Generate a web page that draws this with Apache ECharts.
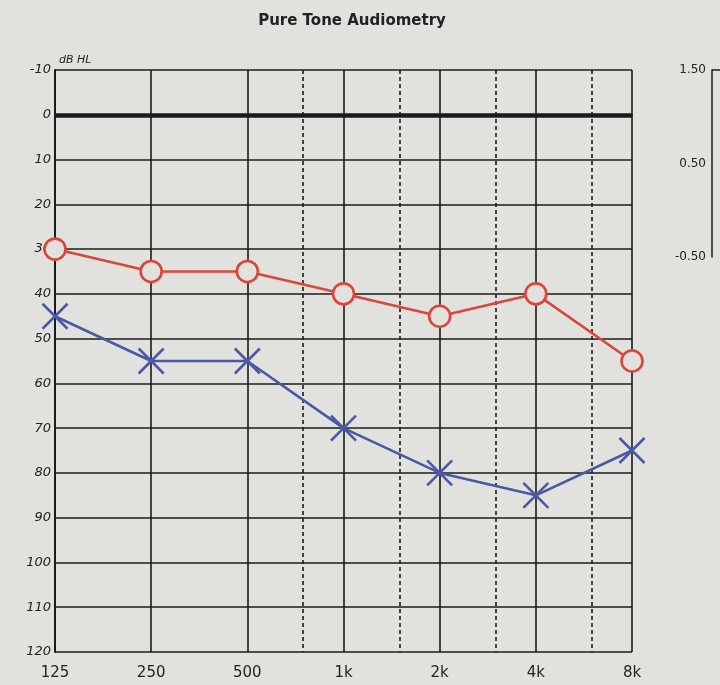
<!DOCTYPE html>
<html>
<head>
<meta charset="utf-8">
<script src="https://cdn.jsdelivr.net/npm/echarts@6/dist/echarts.min.js"></script>
<style>html,body{margin:0;padding:0;background:#e1e2de;}#c{width:720px;height:685px;}</style>
</head>
<body>
<div id="c"></div>
<script>
var frequencies = [125, 250, 500, 1000, 2000, 4000, 8000];
var freqLabels = ['125', '250', '500', '1k', '2k', '4k', '8k'];
var halfOctaves = [750, 1500, 3000, 6000];
var rightEar = [30, 35, 35, 40, 45, 40, 55];   // red circles
var leftEar = [45, 55, 55, 70, 80, 85, 75];    // blue crosses
var dbTicks = { min: -10, max: 120, step: 10 };
var tympTicks = { min: -0.5, max: 1.5, step: 0.5 };

function oct(f) { return Math.log(f / 125) / Math.LN2; }
function pairs(vals) { return frequencies.map(function (f, i) { return [oct(f), vals[i]]; }); }

var chart = echarts.init(document.getElementById('c'), null, { renderer: 'canvas' });
var ink = '#1b1b1b';
chart.setOption({
  backgroundColor: '#e1e2de',
  animation: false,
  title: {
    text: 'Pure Tone Audiometry', left: 347, top: 9, textAlign: 'center',
    textStyle: { fontFamily: 'DejaVu Sans', fontWeight: 'bold', fontSize: 15, color: '#222' }
  },
  grid: [
    { left: 55, right: 88, top: 70, bottom: 33, show: false },
    { left: 712, width: 200, top: 70, height: 187, show: false }
  ],
  xAxis: [
    {
      gridIndex: 0, type: 'value', min: 0, max: 6, interval: 1,
      axisLine: { show: true, lineStyle: { color: ink, width: 2 } },
      axisTick: { show: false },
      splitLine: { show: true, lineStyle: { color: ink, width: 1.6 } },
      axisLabel: {
        margin: 14, fontFamily: 'DejaVu Sans', fontSize: 15, color: '#222',
        formatter: function (v) { return freqLabels[Math.round(v)] || ''; }
      }
    },
    { gridIndex: 1, type: 'value', show: false, min: 0, max: 1 }
  ],
  yAxis: [
    {
      gridIndex: 0, type: 'value', inverse: true,
      min: dbTicks.min, max: dbTicks.max, interval: dbTicks.step,
      name: 'dB HL', nameLocation: 'start', nameGap: 4,
      nameTextStyle: { fontFamily: 'DejaVu Sans', fontStyle: 'italic', fontSize: 11, color: '#222', align: 'left', padding: [0, 0, 0, 4] },
      axisLine: { show: true, lineStyle: { color: ink, width: 2 } },
      axisTick: { show: false },
      splitLine: { show: true, lineStyle: { color: ink, width: 1.6 } },
      axisLabel: { margin: 4, fontFamily: 'DejaVu Sans', fontStyle: 'italic', fontSize: 13, color: '#222' }
    },
    {
      gridIndex: 1, type: 'value', min: tympTicks.min, max: tympTicks.max, interval: tympTicks.step,
      axisLine: { show: true, lineStyle: { color: ink, width: 1.5 } },
      axisTick: { show: false },
      splitLine: { show: false },
      axisLabel: {
        margin: 6, fontFamily: 'DejaVu Sans', fontSize: 12, color: '#222',
        formatter: function (v) { return Math.abs(Math.round(v * 2)) % 2 === 1 ? v.toFixed(2) : ''; }
      }
    }
  ],
  series: [
    {
      type: 'line', xAxisIndex: 0, yAxisIndex: 0, data: [], silent: true,
      markLine: {
        symbol: 'none', silent: true, label: { show: false },
        lineStyle: { color: ink, type: [4, 3], width: 1.6 },
        data: halfOctaves.map(function (f) { return { xAxis: oct(f) }; })
      }
    },
    {
      type: 'line', xAxisIndex: 0, yAxisIndex: 0, data: [], silent: true,
      markLine: {
        symbol: 'none', silent: true, label: { show: false },
        lineStyle: { color: ink, type: 'solid', width: 4.5 },
        data: [{ yAxis: 0 }]
      }
    },
    {
      type: 'line', xAxisIndex: 1, yAxisIndex: 1, data: [], silent: true,
      markLine: {
        symbol: 'none', silent: true, label: { show: false },
        lineStyle: { color: ink, type: 'solid', width: 1.5 },
        data: [{ yAxis: tympTicks.max }]
      }
    },
    {
      type: 'line', xAxisIndex: 0, yAxisIndex: 0, name: 'Right',
      data: pairs(rightEar), z: 5,
      lineStyle: { color: '#d9463c', width: 2.6 },
      symbol: 'circle', symbolSize: 21,
      itemStyle: { color: '#e1e2de', borderColor: '#d9463c', borderWidth: 2.6 }
    },
    {
      type: 'line', xAxisIndex: 0, yAxisIndex: 0, name: 'Left',
      data: pairs(leftEar), z: 6,
      lineStyle: { color: '#4a58a6', width: 2.6 },
      symbol: 'path://M0,0L10,10M10,0L0,10', symbolSize: 25, symbolKeepAspect: true,
      itemStyle: { color: 'rgba(0,0,0,0)', borderColor: '#4a58a6', borderWidth: 2.6 }
    }
  ]
});
</script>
</body>
</html>
